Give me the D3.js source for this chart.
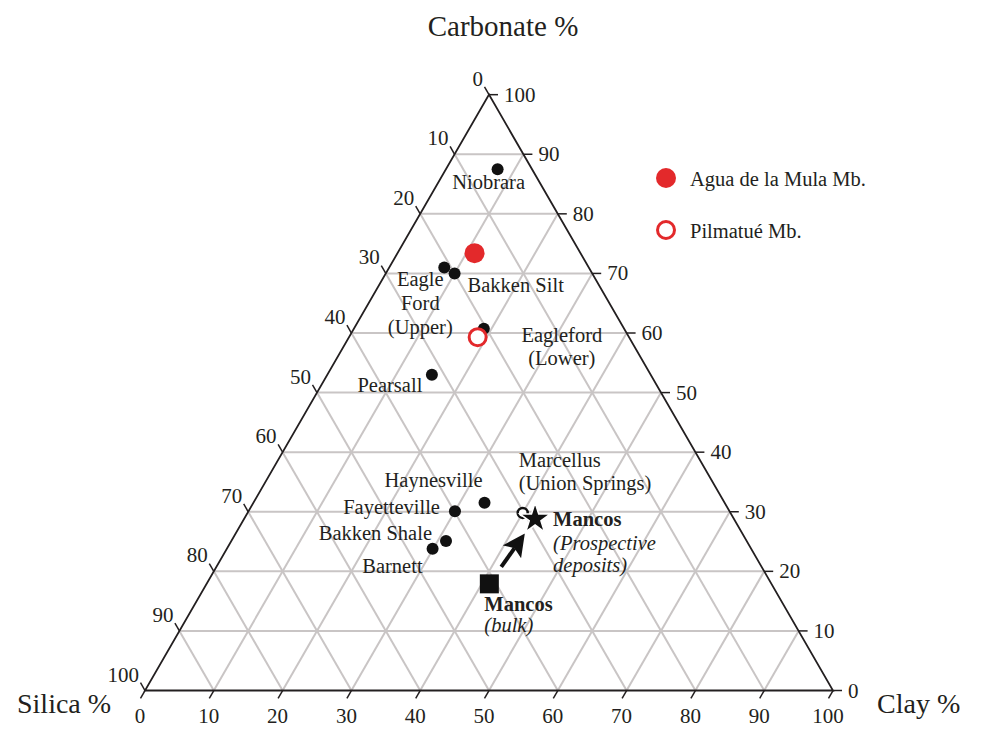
<!DOCTYPE html>
<html>
<head>
<meta charset="utf-8">
<script src="https://cdn.jsdelivr.net/npm/d3@7"></script>
<style>
  body { margin: 0; background: #fff; }
  svg text { font-family: "Liberation Serif", "Times New Roman", serif; fill: #231f20; }
</style>
</head>
<body>
<div id="chart"></div>
<script>
// DATA (percentages: silica, clay, carbonate)
var names     = ['Niobrara', 'Eagle Ford (Upper)', 'Bakken Silt', 'Eagleford (Lower)', 'Pearsall',
                 'Haynesville', 'Fayetteville', 'Bakken Shale', 'Barnett', 'Marcellus (Union Springs)']
var silica    = [5.0, 21.0, 20.0, 20.4, 31.8, 34.9, 39.9, 43.7, 46.3, 30.2]
var clay      = [7.5, 8.0, 10.0, 18.9, 15.2, 33.6, 30.0, 31.2, 29.9, 40.0]
var carbonate = [87.5, 71.0, 70.0, 60.7, 53.0, 31.5, 30.1, 25.1, 23.8, 29.8]

var vacaMuertaNames = ['Agua de la Mula Mb.', 'Pilmatué Mb.']
var vmSilica    = [15.4, 22.0]
var vmClay      = [11.2, 18.7]
var vmCarbonate = [73.4, 59.3]

var mancosNames     = ['Mancos (bulk)', 'Mancos (Prospective deposits)']
var mancosSilica    = [41.0, 28.9]
var mancosClay      = [41.1, 42.3]
var mancosCarbonate = [17.9, 28.8]

var ticks = [0, 10, 20, 30, 40, 50, 60, 70, 80, 90, 100]

// GLOBAL
var width = 981
var height = 729
var svg = d3.select('#chart').append('svg')
  .attr('width', width)
  .attr('height', height)

var tri = {left: 145, right: 833, bottom: 690.5}
var side = tri.right - tri.left
var triH = side * Math.sqrt(3) / 2

// along-base position and carbonate height
var xMap = d3.scaleLinear().domain([0, 100]).range([tri.left, tri.right])
var yMap = d3.scaleLinear().domain([0, 100]).range([tri.bottom, tri.bottom - triH])

var red = '#e3292b'
var grid = '#c9c5c5'
var labelSize = 20.5

// HELPERS
function project(cl, ca) {
  return [xMap(cl + ca / 2), yMap(ca)]
}

function lineBetween(g, a, b, stroke, w) {
  g.append('line')
    .attr('x1', a[0]).attr('y1', a[1])
    .attr('x2', b[0]).attr('y2', b[1])
    .style('stroke', stroke)
    .style('stroke-width', w)
}

function addText(g, x, y, str, size, anchor) {
  return g.append('text')
    .attr('x', x)
    .attr('y', y)
    .style('font-size', size + 'px')
    .style('text-anchor', anchor || 'start')
    .text(str)
}

// GRID
var gGrid = svg.append('g')
ticks.slice(1, -1).forEach(function(v) {
  // constant carbonate
  lineBetween(gGrid, project(0, v), project(100 - v, v), grid, 2)
  // constant clay
  lineBetween(gGrid, project(v, 0), project(v, 100 - v), grid, 2)
  // constant silica
  lineBetween(gGrid, project(0, 100 - v), project(100 - v, 0), grid, 2)
})

// FRAME
var gFrame = svg.append('g')
var pSi = project(0, 0), pCl = project(100, 0), pCa = project(0, 100)
gFrame.append('path')
  .attr('d', 'M' + pSi + 'L' + pCl + 'L' + pCa + 'Z')
  .style('fill', 'none')
  .style('stroke', '#231f20')
  .style('stroke-width', 1.8)
  .style('stroke-linejoin', 'miter')

var tickLen = 9
var c60 = 0.5, s60 = Math.sqrt(3) / 2
ticks.forEach(function(v) {
  // bottom: clay
  var pb = project(v, 0)
  lineBetween(gFrame, pb, [pb[0] - c60 * tickLen, pb[1] + s60 * tickLen], '#231f20', 1.5)
  addText(gFrame, pb[0] - 5, pb[1] + 32, v, 21, 'middle')
  // left: silica (0 at top)
  var pl = project(0, 100 - v)
  lineBetween(gFrame, pl, [pl[0] - c60 * tickLen, pl[1] - s60 * tickLen], '#231f20', 1.5)
  addText(gFrame, pl[0] - 6, pl[1] - 9, v, 21, 'end')
  // right: carbonate
  var pr = project(100 - v, v)
  lineBetween(gFrame, pr, [pr[0] + tickLen, pr[1]], '#231f20', 1.5)
  addText(gFrame, pr[0] + 15, pr[1] + 7, v, 21, 'start')
})

// AXIS TITLES
addText(svg, 503, 36, 'Carbonate %', 29, 'middle')
addText(svg, 17, 713, 'Silica %', 28, 'start')
addText(svg, 877, 713, 'Clay %', 28, 'start')

// POINTS
var gPts = svg.append('g')
var pts = names.map(function(n, i) {
  return {name: n, si: silica[i], cl: clay[i], ca: carbonate[i]}
})

// label layout relative to each point: [dx, dy, anchor, line step]
var labelLayout = {
  'Niobrara': [-9, 20, 'middle', 0],
  'Eagle Ford (Upper)': [-24, 19, 'middle', 24],
  'Bakken Silt': [13, 19, 'start', 0],
  'Eagleford (Lower)': [78, 13, 'middle', 23],
  'Pearsall': [-42, 17, 'middle', 0],
  'Haynesville': [-51, -16, 'middle', 0],
  'Fayetteville': [-15, 3, 'end', 0],
  'Bakken Shale': [-14, -1, 'end', 0],
  'Barnett': [-10, 24, 'end', 0],
  'Marcellus (Union Springs)': [-4, -46, 'start', 23]
}
var labelLines = {
  'Eagle Ford (Upper)': ['Eagle', 'Ford', '(Upper)'],
  'Eagleford (Lower)': ['Eagleford', '(Lower)'],
  'Marcellus (Union Springs)': ['Marcellus', '(Union Springs)']
}

pts.forEach(function(d) {
  var p = project(d.cl, d.ca)
  var marcellus = d.name.indexOf('Marcellus') === 0
  gPts.append('circle')
    .attr('cx', p[0])
    .attr('cy', p[1])
    .attr('r', marcellus ? 5 : 6)
    .style('fill', marcellus ? '#fff' : '#111')
    .style('stroke', '#111')
    .style('stroke-width', marcellus ? 2.5 : 0)

  var lay = labelLayout[d.name]
  var lines = labelLines[d.name] || [d.name]
  lines.forEach(function(t, k) {
    addText(gPts, p[0] + lay[0], p[1] + lay[1] + k * lay[3], t, labelSize, lay[2])
  })
})

// VACA MUERTA
vacaMuertaNames.forEach(function(n, i) {
  var p = project(vmClay[i], vmCarbonate[i])
  var filled = i === 0
  gPts.append('circle')
    .attr('cx', p[0])
    .attr('cy', p[1])
    .attr('r', filled ? 10 : 8.5)
    .style('fill', filled ? red : '#fff')
    .style('stroke', red)
    .style('stroke-width', filled ? 0 : 3)
})

// MANCOS
var pBulk = project(mancosClay[0], mancosCarbonate[0])
var pProsp = project(mancosClay[1], mancosCarbonate[1])

svg.append('defs').append('marker')
  .attr('id', 'head')
  .attr('viewBox', '0 0 10 10')
  .attr('refX', 2)
  .attr('refY', 5)
  .attr('markerWidth', 5.6)
  .attr('markerHeight', 5.6)
  .attr('markerUnits', 'strokeWidth')
  .attr('orient', 'auto')
  .append('path')
  .attr('d', 'M0,0L10,5L0,10L2,5Z')
  .style('fill', '#111')

var ax = pProsp[0] - pBulk[0], ay = pProsp[1] - pBulk[1]
gPts.append('line')
  .attr('x1', pBulk[0] + ax * 0.26).attr('y1', pBulk[1] + ay * 0.26)
  .attr('x2', pBulk[0] + ax * 0.55).attr('y2', pBulk[1] + ay * 0.55)
  .style('stroke', '#111')
  .style('stroke-width', 4)
  .attr('marker-end', 'url(#head)')

gPts.append('rect')
  .attr('x', pBulk[0] - 9.5)
  .attr('y', pBulk[1] - 9.5)
  .attr('width', 19)
  .attr('height', 19)
  .style('fill', '#111')

gPts.append('path')
  .attr('d', d3.symbol().type(d3.symbolStar).size(290)())
  .attr('transform', 'translate(' + pProsp + ')')
  .style('fill', '#111')
  .style('stroke', '#fff')
  .style('stroke-width', 1.5)

// Mancos labels
var t1 = addText(gPts, pProsp[0] + 18, pProsp[1] + 7, 'Mancos', labelSize, 'start')
t1.style('font-weight', 'bold')
addText(gPts, pProsp[0] + 18, pProsp[1] + 31, '(Prospective', labelSize, 'start').style('font-style', 'italic')
addText(gPts, pProsp[0] + 18, pProsp[1] + 53, 'deposits)', labelSize, 'start').style('font-style', 'italic')

var t2 = addText(gPts, pBulk[0] - 5, pBulk[1] + 27, 'Mancos', labelSize, 'start')
t2.style('font-weight', 'bold')
addText(gPts, pBulk[0] - 5, pBulk[1] + 48, '(bulk)', labelSize, 'start').style('font-style', 'italic')

// LEGEND
var gLeg = svg.append('g')
vacaMuertaNames.forEach(function(n, i) {
  var cy = 178 + i * 52
  var filled = i === 0
  gLeg.append('circle')
    .attr('cx', 666)
    .attr('cy', cy)
    .attr('r', filled ? 10 : 8.5)
    .style('fill', filled ? red : '#fff')
    .style('stroke', red)
    .style('stroke-width', filled ? 0 : 3)
  addText(gLeg, 690, cy + 8, n, labelSize, 'start')
})
</script>
</body>
</html>
